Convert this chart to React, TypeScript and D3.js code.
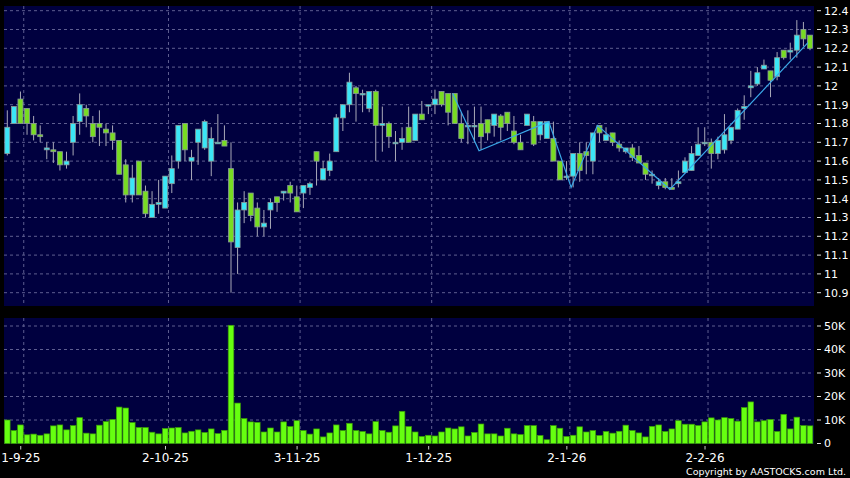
import React, { useEffect } from 'react';
import * as d3 from 'd3';

// OHLC, one entry per trading day (27-8-25 .. 26-2-26)
const opens = [
  11.64, 11.80, 11.93, 11.88, 11.80, 11.74, 11.66, 11.66, 11.65, 11.58,
  11.70, 11.81, 11.88, 11.80, 11.80, 11.77, 11.75, 11.71, 11.58, 11.42,
  11.60, 11.44, 11.30, 11.37, 11.35, 11.48, 11.60, 11.80, 11.60, 11.70,
  11.67, 11.60, 11.70, 11.71, 11.56, 11.14, 11.34, 11.43, 11.35, 11.25,
  11.34, 11.41, 11.43, 11.47, 11.41, 11.43, 11.46, 11.65, 11.50, 11.55,
  11.65, 11.83, 11.90, 11.99, 11.96, 11.88, 11.97, 11.79, 11.80, 11.70,
  11.70, 11.78, 11.71, 11.85, 11.90, 11.90, 11.97, 11.96, 11.96, 11.80,
  11.79, 11.79, 11.80, 11.82, 11.79, 11.84, 11.86, 11.76, 11.70, 11.79,
  11.81, 11.74, 11.72, 11.72, 11.60, 11.52, 11.52, 11.64, 11.65, 11.60,
  11.79, 11.71, 11.75, 11.69, 11.65, 11.67, 11.63, 11.59, 11.53, 11.47,
  11.49, 11.46, 11.48, 11.54, 11.55, 11.63, 11.70, 11.70, 11.64, 11.66,
  11.71, 11.77, 11.88, 11.99, 12.01, 12.09, 12.08, 12.05, 12.19, 12.18,
  12.19, 12.30, 12.27,
];
const highs = [
  11.87, 11.89, 11.97, 11.88, 11.84, 11.79, 11.70, 11.70, 11.65, 11.65,
  11.84, 11.96, 11.90, 11.84, 11.87, 11.80, 11.79, 11.71, 11.61, 11.58,
  11.60, 11.47, 11.44, 11.50, 11.52, 11.63, 11.79, 11.80, 11.66, 11.77,
  11.82, 11.78, 11.85, 11.79, 11.70, 11.38, 11.44, 11.43, 11.38, 11.34,
  11.40, 11.41, 11.44, 11.49, 11.47, 11.47, 11.49, 11.65, 11.60, 11.64,
  11.85, 11.90, 12.07, 12.00, 11.98, 11.97, 11.98, 11.89, 11.81, 11.76,
  11.78, 11.89, 11.85, 11.92, 11.90, 11.98, 11.97, 11.96, 11.96, 11.86,
  11.87, 11.89, 11.89, 11.82, 11.85, 11.85, 11.86, 11.84, 11.74, 11.85,
  11.84, 11.81, 11.81, 11.81, 11.60, 11.60, 11.64, 11.70, 11.70, 11.75,
  11.79, 11.78, 11.75, 11.71, 11.67, 11.69, 11.68, 11.59, 11.55, 11.51,
  11.51, 11.51, 11.55, 11.62, 11.68, 11.78, 11.78, 11.72, 11.73, 11.85,
  11.78, 11.88, 11.95, 12.08, 12.10, 12.14, 12.08, 12.18, 12.19, 12.23,
  12.35, 12.34, 12.27,
];
const lows = [
  11.63, 11.80, 11.80, 11.74, 11.71, 11.70, 11.61, 11.59, 11.55, 11.56,
  11.63, 11.74, 11.78, 11.70, 11.68, 11.68, 11.66, 11.53, 11.38, 11.38,
  11.42, 11.30, 11.30, 11.32, 11.35, 11.43, 11.56, 11.60, 11.50, 11.58,
  11.66, 11.52, 11.70, 11.68, 10.90, 11.00, 11.27, 11.28, 11.20, 11.20,
  11.24, 11.33, 11.39, 11.38, 11.33, 11.35, 11.42, 11.47, 11.50, 11.52,
  11.65, 11.76, 11.86, 11.81, 11.86, 11.86, 11.60, 11.65, 11.67, 11.60,
  11.66, 11.70, 11.71, 11.82, 11.85, 11.85, 11.89, 11.79, 11.80, 11.70,
  11.69, 11.70, 11.66, 11.71, 11.73, 11.71, 11.76, 11.69, 11.66, 11.79,
  11.68, 11.71, 11.72, 11.60, 11.50, 11.50, 11.46, 11.49, 11.53, 11.53,
  11.70, 11.71, 11.68, 11.65, 11.64, 11.60, 11.59, 11.50, 11.48, 11.45,
  11.45, 11.45, 11.46, 11.54, 11.55, 11.63, 11.68, 11.56, 11.61, 11.64,
  11.69, 11.77, 11.82, 11.94, 12.00, 12.09, 11.94, 12.03, 12.14, 12.14,
  12.15, 12.21, 12.19,
];
const closes = [
  11.78, 11.89, 11.80, 11.80, 11.74, 11.73, 11.67, 11.65, 11.58, 11.60,
  11.80, 11.90, 11.84, 11.73, 11.78, 11.75, 11.71, 11.53, 11.42, 11.51,
  11.42, 11.32, 11.37, 11.38, 11.52, 11.56, 11.79, 11.66, 11.62, 11.77,
  11.81, 11.72, 11.70, 11.68, 11.17, 11.34, 11.38, 11.31, 11.25, 11.27,
  11.38, 11.38, 11.44, 11.43, 11.33, 11.47, 11.48, 11.60, 11.56, 11.60,
  11.83, 11.90, 12.02, 11.96, 11.96, 11.97, 11.79, 11.80, 11.73, 11.70,
  11.72, 11.70, 11.85, 11.82, 11.90, 11.93, 11.90, 11.86, 11.80, 11.72,
  11.79, 11.79, 11.73, 11.75, 11.85, 11.78, 11.80, 11.70, 11.66, 11.85,
  11.69, 11.81, 11.81, 11.60, 11.50, 11.52, 11.64, 11.55, 11.63, 11.75,
  11.75, 11.74, 11.70, 11.67, 11.67, 11.62, 11.59, 11.53, 11.53, 11.49,
  11.46, 11.45, 11.49, 11.60, 11.64, 11.69, 11.70, 11.64, 11.71, 11.74,
  11.78, 11.87, 11.89, 12.00, 12.07, 12.11, 12.03, 12.15, 12.15, 12.19,
  12.27, 12.25, 12.20,
];
// volume in thousands of shares
const volumes = [
  10.0, 5.5, 7.9, 3.7, 4.0, 3.5, 4.1, 7.5, 7.9, 5.8,
  7.6, 11.0, 4.4, 4.1, 7.8, 9.3, 10.2, 15.5, 15.1, 8.9,
  6.8, 6.8, 4.8, 4.1, 6.4, 6.6, 6.8, 4.5, 5.2, 5.8,
  4.7, 6.2, 4.2, 5.6, 50.3, 17.2, 10.6, 9.2, 9.0, 4.9,
  6.6, 4.9, 9.2, 7.2, 9.7, 5.5, 4.0, 6.2, 2.8, 4.5,
  7.9, 5.5, 8.6, 5.5, 5.1, 4.1, 9.3, 5.5, 4.8, 7.5,
  13.7, 7.2, 4.9, 3.0, 3.5, 3.2, 4.9, 6.6, 6.2, 7.1,
  3.2, 4.7, 8.3, 4.1, 4.1, 3.2, 6.5, 4.1, 3.8, 7.6,
  7.6, 3.4, 1.6, 7.6, 6.5, 3.0, 3.5, 7.1, 4.9, 5.5,
  3.4, 5.1, 4.4, 5.2, 7.8, 5.5, 4.5, 2.8, 7.3, 7.9,
  5.1, 6.2, 9.7, 8.2, 8.2, 7.6, 9.2, 10.9, 10.0, 11.0,
  10.6, 9.5, 15.3, 17.7, 9.2, 9.7, 10.2, 5.1, 12.4, 6.2,
  11.2, 7.6, 7.5,
];
// zigzag turning points: [day index, price]
const zigzag: [number, number][] = [
  [68, 11.96], [72, 11.655], [82.6, 11.81], [86, 11.46],
  [90, 11.79], [101, 11.45], [122, 12.23],
];
// first trading day of each month (index) and its label
const monthStarts = [3, 25, 45, 65, 86, 107];
const monthLabels = ['1-9-25', '2-10-25', '3-11-25', '1-12-25', '2-1-26', '2-2-26'];
const priceTicks = [10.9, 11, 11.1, 11.2, 11.3, 11.4, 11.5, 11.6, 11.7, 11.8, 11.9, 12, 12.1, 12.2, 12.3, 12.4];
const volumeTicks = [0, 10, 20, 30, 40, 50];

const W = 850;
const H = 478;
const panelL = 4;
const panelR = 814;
const mainTop = 6;
const mainBottom = 306;
const volTop = 318;
const volBottom = 444;

const UP = '#3be6f6';
const DOWN = '#78dc22';
const GRID = '#5e5e90';
const BG = '#00003f';
const FONT = 'DejaVu Sans, Verdana, sans-serif';

const fmtPrice = (v: number) => d3.format('~g')(v);

const App = () => {
  useEffect(() => {
    document.body.style.margin = '0';
    document.body.style.background = '#000';
  }, []);

  const x = d3.scaleLinear().domain([0, closes.length - 1]).range([7.3, 810]);
  const y = d3.scaleLinear().domain([10.9, 12.4]).range([292.7, 10.7]);
  const yv = d3.scaleLinear().domain([0, 50]).range([443.5, 326]);
  const bodyW = 5;
  const volW = 5.6;

  const zigLine = d3.line<[number, number]>()
    .x(d => x(d[0]) - 2)
    .y(d => y(d[1]));

  const gridXs = monthStarts.map(i => x(i - 0.5));

  return (
    <svg width={W} height={H} style={{ display: 'block' }}>
      <rect x={0} y={0} width={W} height={H} fill="#000" />

      {/* price panel */}
      <rect x={panelL} y={mainTop} width={panelR - panelL} height={mainBottom - mainTop} fill={BG} />
      {priceTicks.map(t => (
        <line key={'pg' + t} x1={panelL} x2={panelR} y1={y(t)} y2={y(t)}
          stroke={GRID} strokeDasharray="3,3" strokeWidth={1} />
      ))}
      {gridXs.map((gx, i) => (
        <line key={'pv' + i} x1={gx} x2={gx} y1={mainTop} y2={mainBottom}
          stroke={GRID} strokeDasharray="3,3" strokeWidth={1} />
      ))}

      {closes.map((c, i) => {
        const o = opens[i];
        const up = c >= o;
        const top = y(Math.max(o, c));
        const bot = y(Math.min(o, c));
        const cx = x(i);
        return (
          <g key={'c' + i}>
            <line x1={cx} x2={cx} y1={y(highs[i])} y2={y(lows[i])} stroke="#a8a8b8" strokeWidth={1} />
            <rect x={cx - bodyW / 2} y={top} width={bodyW} height={Math.max(bot - top, 1.5)}
              fill={up ? UP : DOWN} stroke="#8a9a98" strokeWidth={0.8} />
          </g>
        );
      })}

      <path d={zigLine(zigzag) || ''} fill="none" stroke="#3aa8e8" strokeWidth={1.2} />

      {priceTicks.map(t => (
        <g key={'pl' + t} transform={`translate(0,${y(t)})`}>
          <line x1={817} x2={821} y1={0} y2={0} stroke="#ddd" strokeWidth={1} />
          <text x={824} y={0} dy="0.36em" fill="#fff" fontSize={11} fontFamily={FONT}>{fmtPrice(t)}</text>
        </g>
      ))}

      {/* volume panel */}
      <rect x={panelL} y={volTop} width={panelR - panelL} height={volBottom - volTop} fill={BG} />
      {volumeTicks.filter(t => t > 0).map(t => (
        <line key={'vg' + t} x1={panelL} x2={panelR} y1={yv(t)} y2={yv(t)}
          stroke={GRID} strokeDasharray="3,3" strokeWidth={1} />
      ))}
      {gridXs.map((gx, i) => (
        <line key={'vv' + i} x1={gx} x2={gx} y1={volTop} y2={volBottom}
          stroke={GRID} strokeDasharray="3,3" strokeWidth={1} />
      ))}
      {volumes.map((v, i) => (
        <rect key={'v' + i} x={x(i) - volW / 2} y={yv(v)} width={volW} height={yv(0) - yv(v)}
          fill="#66ff10" stroke="#3a9a08" strokeWidth={0.7} />
      ))}
      {volumeTicks.map(t => (
        <g key={'vl' + t} transform={`translate(0,${yv(t)})`}>
          <line x1={817} x2={821} y1={0} y2={0} stroke="#ddd" strokeWidth={1} />
          <text x={824} y={0} dy="0.36em" fill="#fff" fontSize={11} fontFamily={FONT}>
            {t === 0 ? '0' : `${t}K`}
          </text>
        </g>
      ))}

      {/* date axis */}
      {gridXs.map((gx, i) => (
        <g key={'xl' + i}>
          <line x1={gx - 3} x2={gx - 3} y1={446} y2={449.5} stroke="#ccc" strokeWidth={1} />
          <text x={gx - 3} y={462} textAnchor="middle" fill="#fff" fontSize={12} fontFamily={FONT}>
            {monthLabels[i]}
          </text>
        </g>
      ))}

      <text x={846} y={475} textAnchor="end" fill="#fff" fontSize={9.5} fontFamily={FONT}>
        Copyright by AASTOCKS.com Ltd.
      </text>
    </svg>
  );
};

export default App;
